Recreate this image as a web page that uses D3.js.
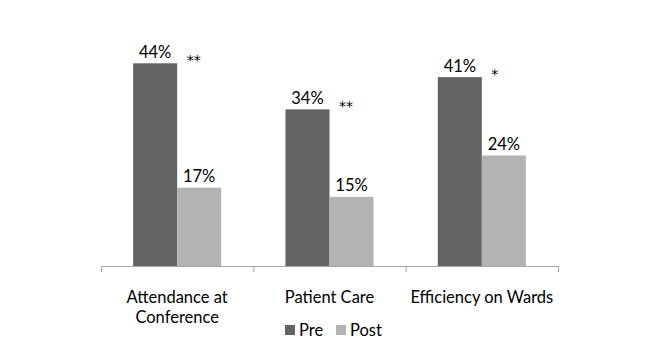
<!DOCTYPE html>
<html><head><meta charset="utf-8">
<script src="https://cdn.jsdelivr.net/npm/d3@7"></script>
<style>body{margin:0;background:#fff}svg{display:block}text{font-family:Lato,"Open Sans",sans-serif;fill:#000}</style>
</head><body><svg id="c" width="650" height="348"></svg>
<script>
const categories = ["Attendance at Conference", "Patient Care", "Efficiency on Wards"];
const categoryLines = [["Attendance at", "Conference"], ["Patient Care"], ["Efficiency on Wards"]];
const series = ["Pre", "Post"];
const preValues = [44, 34, 41];
const postValues = [17, 15, 24];
const significance = ["**", "**", "*"];
const colors = {Pre: "#636363", Post: "#b3b3b3"};

const svg = d3.select("#c");
const x0 = 101, x1 = 558, baseY = 266;
const x = d3.scaleBand().domain(categories).range([x0, x1]).paddingInner(0).paddingOuter(0);
const xs = d3.scaleBand().domain(series).range([0, x.bandwidth()]).paddingInner(0).paddingOuter(0.73);
const y = d3.scaleLinear().domain([0, 44]).range([baseY, 63.3]);

const data = categories.map((c, i) => ({c, Pre: preValues[i], Post: postValues[i], sig: significance[i], lines: categoryLines[i]}));

const g = svg.append("g");
data.forEach(d => {
  series.forEach(s => {
    g.append("rect")
      .attr("x", x(d.c) + xs(s)).attr("width", xs.bandwidth())
      .attr("y", y(d[s])).attr("height", baseY - y(d[s]))
      .attr("fill", colors[s]);
    g.append("text")
      .attr("x", x(d.c) + xs(s) + xs.bandwidth() / 2)
      .attr("y", y(d[s]) - 5.5)
      .attr("text-anchor", "middle").attr("font-size", 16.5)
      .text(d[s] + "%");
  });
  g.append("text")
    .attr("x", x(d.c) + xs("Post") + 9.5)
    .attr("y", y(d.Pre) + 1.5)
    .attr("font-size", 14)
    .style("font-family", "'DejaVu Sans', sans-serif")
    .attr("fill", "#222")
    .text(d.sig);
});

// axis
const axis = svg.append("g").attr("transform", `translate(0,${baseY})`)
  .call(d3.axisBottom(x).tickSize(0).tickFormat(""));
axis.select(".domain").attr("stroke", "#a6a6a6").attr("d", `M${x0},0.5H${x1}`);
const tickPos = [x0, ...categories.map(c => x(c) + x.bandwidth())];
axis.selectAll("line.tk").data(tickPos).enter().append("line").attr("class", "tk")
  .attr("x1", d => d + 0.5).attr("x2", d => d + 0.5).attr("y1", 0).attr("y2", 6)
  .attr("stroke", "#a6a6a6");

data.forEach(d => {
  const t = svg.append("text").attr("text-anchor", "middle").attr("font-size", 16.5);
  d.lines.forEach((l, j) => {
    t.append("tspan").attr("x", x(d.c) + x.bandwidth() / 2).attr("y", 303 + j * 20).text(l);
  });
});

// legend
const legend = svg.append("g");
const legX = [285, 336];
series.forEach((s, i) => {
  legend.append("rect").attr("x", legX[i]).attr("y", 325).attr("width", 10).attr("height", 10).attr("fill", colors[s]);
  legend.append("text").attr("x", legX[i] + 14).attr("y", 336).attr("font-size", 16.5).text(s);
});
</script></body></html>
